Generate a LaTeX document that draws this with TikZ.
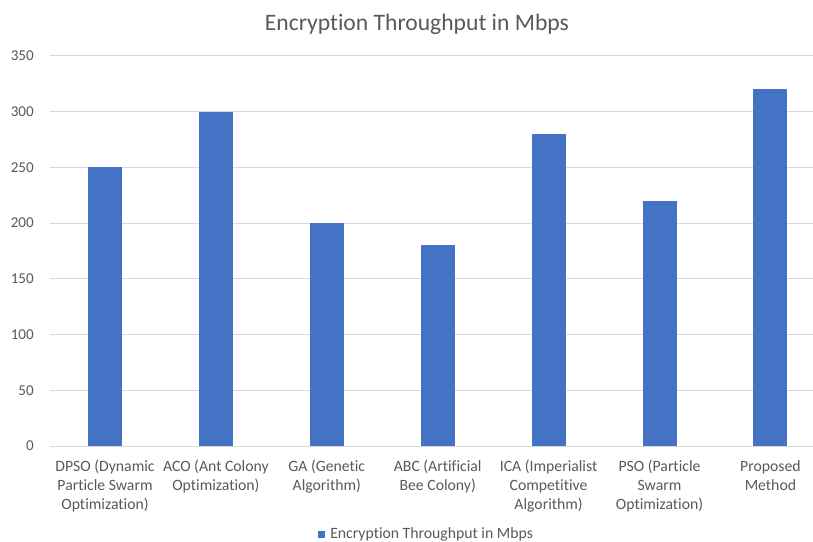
\documentclass[tikz,border=0pt]{standalone}
\usepackage{fontspec}
\setmainfont{Carlito}[Ligatures=NoCommon]
\usepackage{xcolor}
\usetikzlibrary{calc, positioning}
\definecolor{barblue}{HTML}{4472C4}
\definecolor{gridgray}{HTML}{D9D9D9}
\definecolor{textgray}{HTML}{595959}

\begin{document}
\begin{tikzpicture}[x=0.75pt, y=-0.75pt,
    font=\fontsize{11.8}{14.25}\selectfont, text=textgray,
    gridline/.style={gridgray, line width=0.75pt},
    bar/.style={fill=barblue},
    ticklab/.style={anchor=east, inner sep=0pt, font=\fontsize{11.3}{14}\selectfont},
    catlab/.style={anchor=north, align=center, inner sep=0pt}]
    \useasboundingbox (0,0) rectangle (813,542);
    % 1. Tiêu đề
    \node[anchor=base, inner sep=0pt] (title) at (417,31)
        {\fontsize{17.7}{21}\selectfont Encryption Throughput in Mbps};
    
    % 2. Lưới và nhãn trục tung
    \foreach \v in {0,50,...,350} {
        \draw[gridline] (50,{446-\v*1.1143}) -- (813,{446-\v*1.1143});
        \node[ticklab] (tick\v) at (34,{446-\v*1.1143}) {\v};
    }
    
    % 3. Các cột
    \foreach \v/\lab [count=\i] in {250/{DPSO (Dynamic\\Particle Swarm\\Optimization)},
        300/{ACO (Ant Colony\\Optimization)}, 200/{GA (Genetic\\Algorithm)},
        180/{ABC (Artificial\\Bee Colony)}, 280/{ICA (Imperialist\\Competitive\\Algorithm)},
        220/{PSO (Particle\\Swarm\\Optimization)}, 320/{Proposed\\Method}} {
        \fill[bar] ({105+(\i-1)*110.9-17},446) rectangle ++(34,{-\v*1.1143});
        \node[catlab] (cat\i) at ({105+(\i-1)*110.9},460) {\lab};
    }
    
    % 4. Chú thích
    \fill[bar] (318,531) rectangle (325,538);
    \node[anchor=base west, inner sep=0pt] (legend) at (330,538) {Encryption Throughput in Mbps};
\end{tikzpicture}
\end{document}
